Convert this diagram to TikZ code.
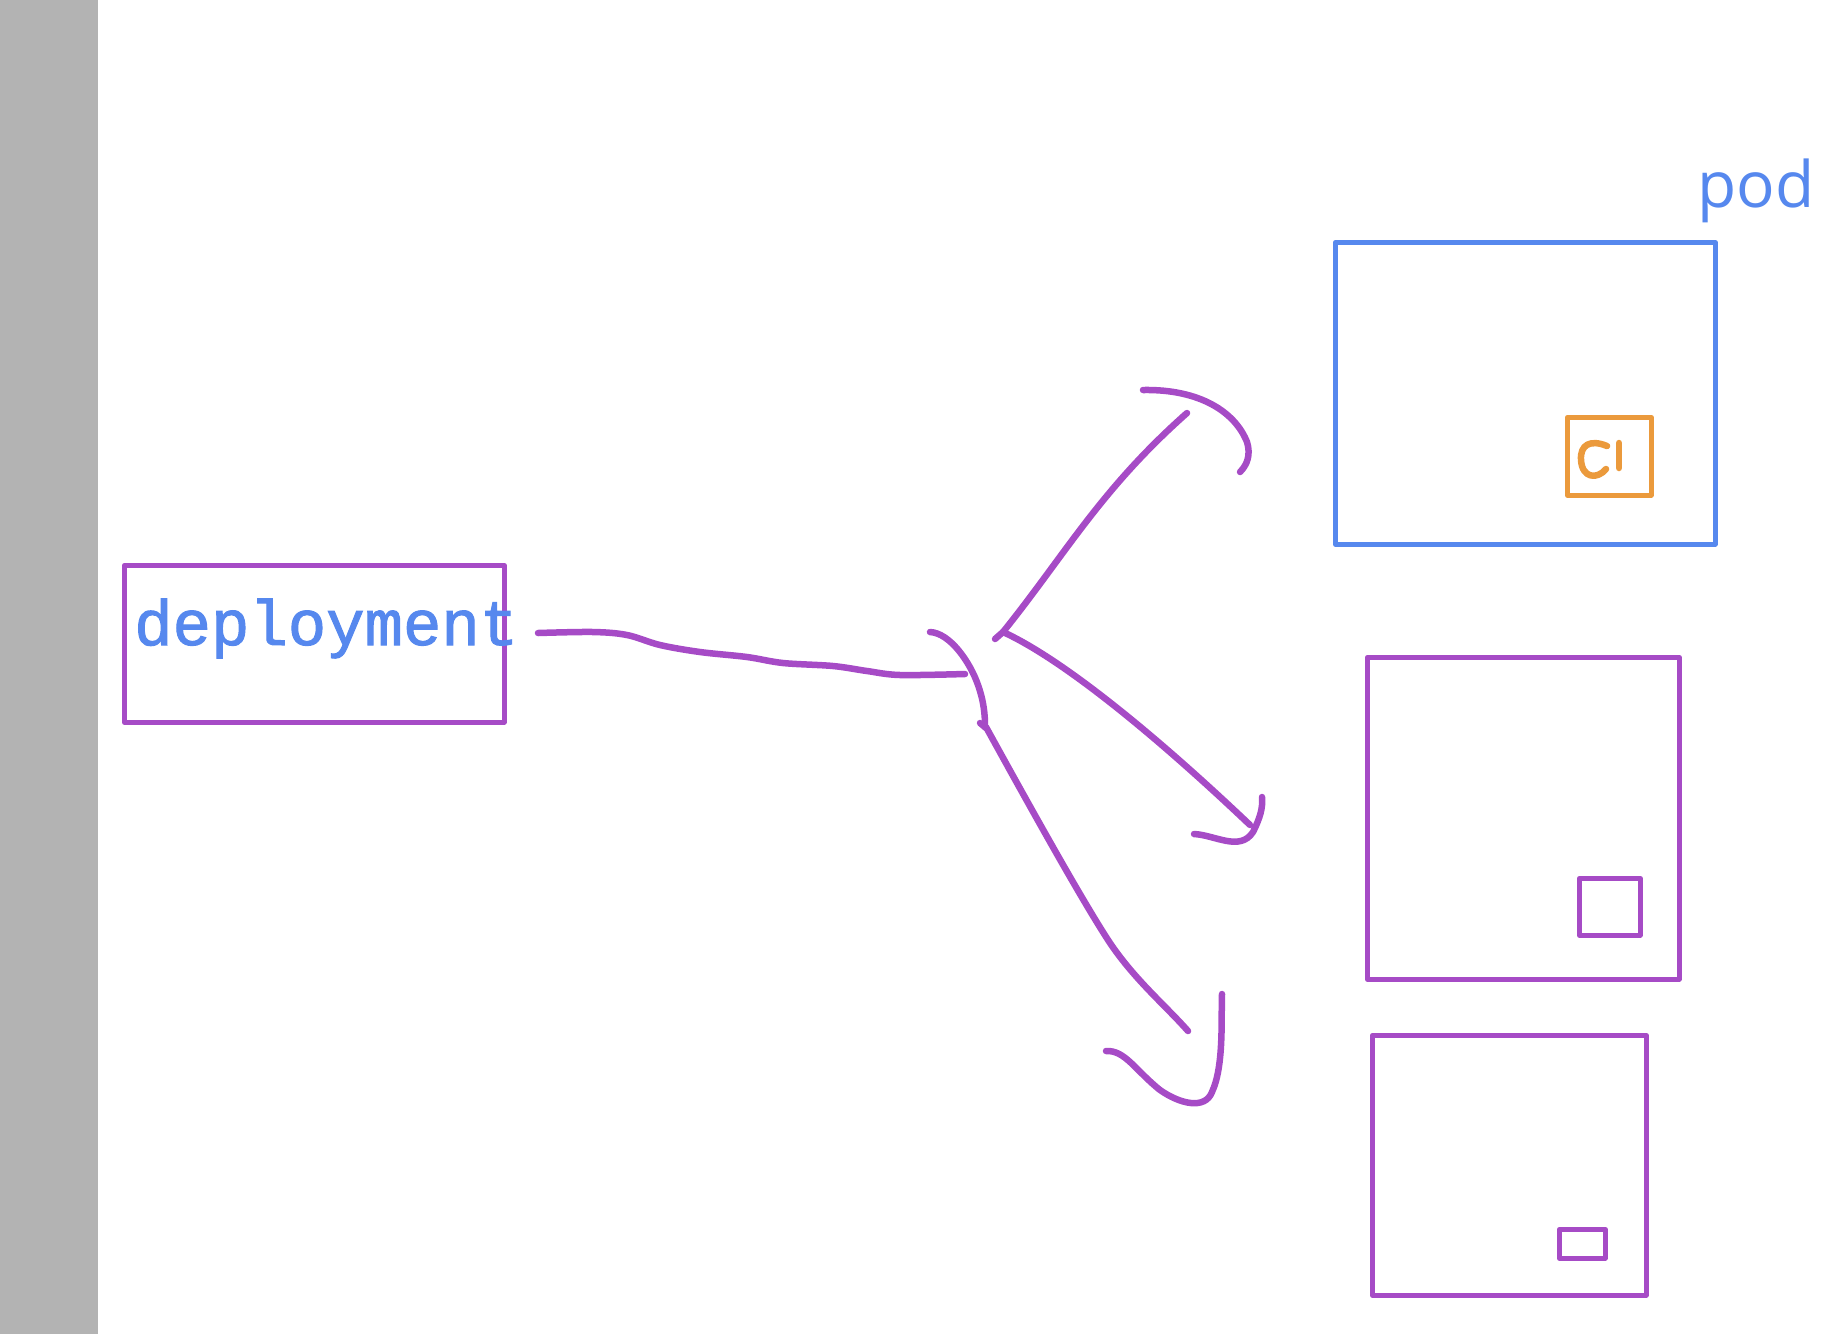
\documentclass[tikz,border=0pt]{standalone}
\usepackage{fontspec}
\newfontfamily\monofont[FakeBold=1.6]{Liberation Mono}
\newfontfamily\podfont{Open Sans}
\definecolor{pur}{HTML}{A64BC6}
\definecolor{blu}{HTML}{5688EE}
\definecolor{org}{HTML}{EB9A3C}
\definecolor{gry}{HTML}{B3B3B3}
\tikzset{
  boxp/.style={draw=pur, line width=4.5pt, line join=round, inner sep=0pt},
  boxb/.style={draw=blu, line width=4.5pt, line join=round, inner sep=0pt},
  boxo/.style={draw=org, line width=4.5pt, line join=round, inner sep=0pt},
  penline/.style={draw=pur, line width=6.5pt, line cap=round, line join=round},
  orgpen/.style={draw=org, line width=6.5pt, line cap=round, line join=round},
}
\begin{document}
\begin{tikzpicture}[x=1pt,y=-1pt]
\useasboundingbox (0,0) rectangle (1838,1334);
\fill[gry] (0,0) rectangle (98,1334);

% deployment box
\node[boxp, minimum width=380pt, minimum height=157pt, anchor=north west] (dep) at (122,563) {};
\node[anchor=base west, inner sep=0pt, text=blu, font=\monofont\fontsize{64}{70}\selectfont] (deptxt) at (134,645) {deployment};

% pod boxes
\node[boxb, minimum width=380pt, minimum height=302pt, anchor=north west] (pod1) at (1333,240) {};
\node[boxo, minimum width=84pt, minimum height=78pt, anchor=north west] (c1) at (1565,415) {};
\node[anchor=base west, inner sep=0pt, text=blu, font=\podfont\fontsize{64}{72}\selectfont] (podlbl) at (1697,207) {pod};

\node[boxp, minimum width=312pt, minimum height=322pt, anchor=north west] (pod2) at (1365,655) {};
\node[boxp, minimum width=61pt, minimum height=57pt, anchor=north west] (c2) at (1577,876) {};

\node[boxp, minimum width=274pt, minimum height=260pt, anchor=north west] (pod3) at (1370,1033) {};
\node[boxp, minimum width=46pt, minimum height=29pt, anchor=north west] (c3) at (1557,1227) {};

% handwritten cI
\draw[orgpen] (1607,446) .. controls (1590,439) and (1580,445) .. (1581,460) .. controls (1582,478) and (1597,480) .. (1606,469);
\draw[orgpen] (1619,443) -- (1619,468);

% connector coordinates
\coordinate (s) at (538,633);
\coordinate (hub) at (1003,632);
\coordinate (e1) at (1187,413);
\coordinate (e2) at (1250,825);
\coordinate (e3) at (1188,1031);

% main stroke
\draw[penline] plot[smooth, tension=0.55] coordinates {(s) (593,632) (627,635) (660,645) (700,652) (747,657) (783,663) (833,666) (867,671) (900,675) (965,674)};
% crossing curve
\draw[penline] (930,632) .. controls (950,633) and (970,662) .. (978,685) .. controls (984,702) and (985,715) .. (985,727);
\draw[penline] (980,723) -- (986,728);

% upper branch
\draw[penline] (995,639) -- (hub);
\draw[penline] (hub) .. controls (1065,555) and (1100,490) .. (e1);
\draw[penline] (1143,390) .. controls (1200,389) and (1235,412) .. (1247,442) .. controls (1251,455) and (1247,465) .. (1240,472);

% middle branch
\draw[penline] (hub) .. controls (1060,658) and (1150,730) .. (e2);
\draw[penline] (1194,834) .. controls (1215,835) and (1240,852) .. (1253,832) .. controls (1260,818) and (1263,808) .. (1262,797);

% lower branch
\draw[penline] (986,727) .. controls (1040,825) and (1085,905) .. (1110,943) .. controls (1135,980) and (1165,1005) .. (e3);
\draw[penline] (1106,1051) .. controls (1125,1050) and (1135,1070) .. (1160,1090) .. controls (1180,1104) and (1205,1110) .. (1212,1092) .. controls (1224,1066) and (1221,1020) .. (1222,994);
\end{tikzpicture}
\end{document}
